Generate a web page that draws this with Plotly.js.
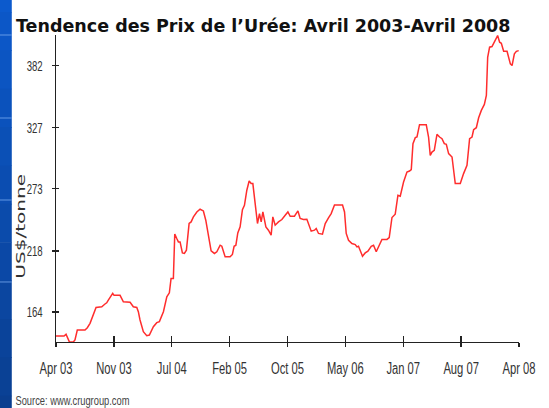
<!DOCTYPE html>
<html>
<head>
<meta charset="utf-8">
<script src="https://cdn.plot.ly/plotly-3.0.1.min.js"></script>
<style>
html,body{margin:0;padding:0;background:#fff;}
#chart{width:549px;height:408px;}
</style>
</head>
<body>
<div id="chart"></div>
<script>
// Months elapsed since April 2003
const months = [0,1.04,1.30,1.47,1.72,2.24,2.46,2.76,3.76,4.06,4.41,5.19,5.93,6.35,6.57,6.78,7.35,7.52,8.30,8.73,9.60,10.02,10.47,10.67,10.89,11.32,11.76,12.10,12.62,13.06,13.40,13.92,14.36,14.69,14.91,15.21,15.39,15.65,15.86,16.08,16.38,16.64,16.90,17.25,17.51,17.81,18.25,18.67,19.10,19.41,19.67,19.84,20.10,20.53,20.84,21.27,21.49,21.92,22.56,22.86,23.08,23.31,23.56,23.86,24.16,24.42,24.73,25.03,25.29,25.51,25.81,26.11,26.37,26.59,26.81,26.98,27.20,27.53,27.88,28.10,28.40,28.83,29.27,29.70,30.05,30.35,30.90,31.35,31.64,32.07,32.51,33.07,33.50,33.72,34.02,34.53,34.89,35.31,35.66,36.09,37.13,37.39,37.61,37.91,38.35,38.78,39.00,39.20,39.42,39.72,40.07,40.42,40.85,41.15,41.50,41.80,42.24,42.89,43.18,43.54,43.96,44.31,44.61,45.04,45.48,45.81,46.04,46.26,46.56,46.78,47.11,47.98,48.28,48.50,48.72,49.02,49.37,49.71,50.02,50.32,50.58,50.88,51.32,51.74,52.39,52.82,53.26,53.60,53.91,54.12,54.47,54.77,55.12,55.51,55.77,55.94,56.19,56.50,56.93,57.23,57.49,57.71,58.01,58.45,58.88,59.10,59.40,59.66,59.96];

// Urea price, US$/tonne
const prices = [142.8,142.8,144.3,142.2,137.8,137.5,139.3,148.1,148.1,150.1,154.0,168.1,168.7,171.1,172.2,174.6,180.5,178.8,178.8,173.1,172.6,168.7,168.1,164.3,157.0,146.6,143.1,143.7,151.0,154.6,155.5,164.3,177.5,181.0,193.7,193.7,233.0,229.0,226.0,226.0,216.3,215.8,218.7,242.3,243.7,248.1,252.5,254.9,253.4,245.2,234.9,230.5,218.1,215.8,217.3,223.1,222.2,212.8,212.8,214.9,222.2,223.1,234.0,239.3,254.6,258.4,271.7,279.9,277.6,277.6,260.0,242.3,251.1,243.7,252.5,245.2,239.3,236.4,232.0,248.1,240.8,243.7,245.8,249.6,252.5,248.7,248.7,253.4,246.7,245.8,246.1,235.5,236.4,237.9,233.5,232.9,242.3,247.2,251.1,258.6,258.6,252.5,233.5,227.5,224.6,223.7,221.6,222.2,218.7,213.4,216.3,217.8,222.2,223.1,217.3,221.6,228.2,228.2,229.9,247.6,250.5,267.3,266.4,279.0,287.8,288.7,290.0,312.9,318.2,318.8,329.7,329.7,318.8,302.6,305.5,307.0,321.1,318.8,317.3,312.9,312.3,304.1,301.1,277.6,277.6,286.4,293.7,317.3,318.8,325.2,327.0,335.8,342.3,347.6,355.5,389.3,398.2,398.8,404.1,408.5,402.6,401.7,394.6,394.6,383.5,382.0,392.3,394.6,395.2];

const xTickVals = [0,7.5,15,22.5,30,37.5,45,52.5,60];
const xTickText = ['Apr 03','Nov 03','Jul 04','Feb 05','Oct 05','May 06','Jan 07','Aug 07','Apr 08'];
const yTickVals = [164,218,273,327,382];
const yTickText = ['164','218','273','327','382'];

const titleText = 'Tendence des Prix de l\u2019Urée: Avril 2003-Avril 2008';
const yTitleText = 'US$/tonne';
const sourceText = 'Source: www.crugroup.com';

const xRange = [0,60];
const yRange = [137.5,409];

const sans = '"Liberation Sans", Arial, sans-serif';
const verd = '"DejaVu Sans", Verdana, sans-serif';

// left decorative blue strip (gradient bands)
const shapes = [];
const bands = 12;
for (let i = 0; i < bands; i++) {
  const t = i / (bands - 1);
  const r = Math.round(12 - 2 * t), g = Math.round(90 - 28 * t), b = Math.round(205 - 62 * t);
  const y1 = 1.2 - i * (1.5 / bands);
  const y0 = y1 - 1.5 / bands - 0.002;
  shapes.push({type:'rect', xref:'paper', yref:'paper', x0:-0.2, x1:-0.0955, y0:y0, y1:y1,
    fillcolor:`rgb(${r},${g},${b})`, line:{width:0}, layer:'below'});
}
[1.0, 0.7296, 0.4625, 0.1955].forEach(yy => {
  shapes.push({type:'line', xref:'paper', yref:'paper', x0:-0.2, x1:-0.0955, y0:yy, y1:yy,
    line:{color:'rgba(120,170,240,0.8)', width:1}});
});

const traces = [
  {x: months, y: prices, type:'scatter', mode:'lines',
   line:{color:'rgb(255,45,45)', width:1.5}, hoverinfo:'skip', showlegend:false},
  {x: [], y: [], xaxis:'x2', yaxis:'y2', type:'scatter', mode:'lines', showlegend:false}
];

const layout = {
  width:549, height:408,
  margin:{l:56, r:30, t:35, b:66},
  paper_bgcolor:'#fff', plot_bgcolor:'#fff',
  showlegend:false,
  title:{text:titleText, x:16/549, xanchor:'left', xref:'container', y:1-26/408, yanchor:'middle', yref:'container',
    font:{family:verd, size:17.5, color:'#111', weight:'bold'}},
  xaxis:{range:xRange, tickvals:xTickVals, ticktext:xTickText, showgrid:false, zeroline:false,
    showline:true, linecolor:'#222', linewidth:1.3, ticks:'outside', ticklen:4, tickwidth:1.3, tickcolor:'#222',
    tickfont:{family:sans, size:16, color:'#333'}, ticklabelstandoff:7, fixedrange:true},
  yaxis:{range:yRange, tickvals:yTickVals, ticktext:yTickText, showgrid:false, zeroline:false,
    showline:true, linecolor:'#222', linewidth:1.3, ticks:'outside', ticklen:3, tickwidth:1.3, tickcolor:'#222',
    tickfont:{family:sans, size:15, color:'#333'}, ticklabelstandoff:6, fixedrange:true},
  xaxis2:{range:xRange, overlaying:'x', anchor:'y2', tickvals:xTickVals, showticklabels:false, showgrid:false,
    zeroline:false, showline:false, ticks:'inside', ticklen:6, tickwidth:1.3, tickcolor:'#222', fixedrange:true},
  yaxis2:{range:yRange, overlaying:'y', anchor:'x2', tickvals:yTickVals, showticklabels:false, showgrid:false,
    zeroline:false, showline:false, ticks:'inside', ticklen:3, tickwidth:1.3, tickcolor:'#222', fixedrange:true},
  shapes: shapes,
  annotations:[
    {text:yTitleText, textangle:-90, xref:'paper', yref:'paper', x:(20-56)/462.7, y:(342-226)/307,
     xanchor:'center', yanchor:'middle', showarrow:false,
     font:{family:verd, size:12.5, color:'#333'}},
    {text:sourceText, xref:'paper', yref:'paper', x:(72-56)/462.7, y:(342-400)/307,
     xanchor:'center', yanchor:'middle', showarrow:false,
     font:{family:sans, size:13, color:'#444'}}
  ]
};

function fitText(selector, fn) {
  document.querySelectorAll(selector).forEach(t => {
    const w = t.getComputedTextLength();
    if (w > 0) {
      t.setAttribute('textLength', fn(w));
      t.setAttribute('lengthAdjust', 'spacingAndGlyphs');
    }
  });
}

Plotly.newPlot('chart', traces, layout, {displayModeBar:false, staticPlot:true}).then(gd => {
  fitText('#chart .xtick text', w => w * 0.70);
  fitText('#chart .ytick text', w => w * 0.64);
  document.querySelectorAll('#chart .annotation-text').forEach(t => {
    if (t.textContent === yTitleText) { t.setAttribute('textLength', 105); t.setAttribute('lengthAdjust', 'spacingAndGlyphs'); }
    if (t.textContent === sourceText) { t.setAttribute('textLength', 114); t.setAttribute('lengthAdjust', 'spacingAndGlyphs'); }
  });
});
</script>
</body>
</html>
